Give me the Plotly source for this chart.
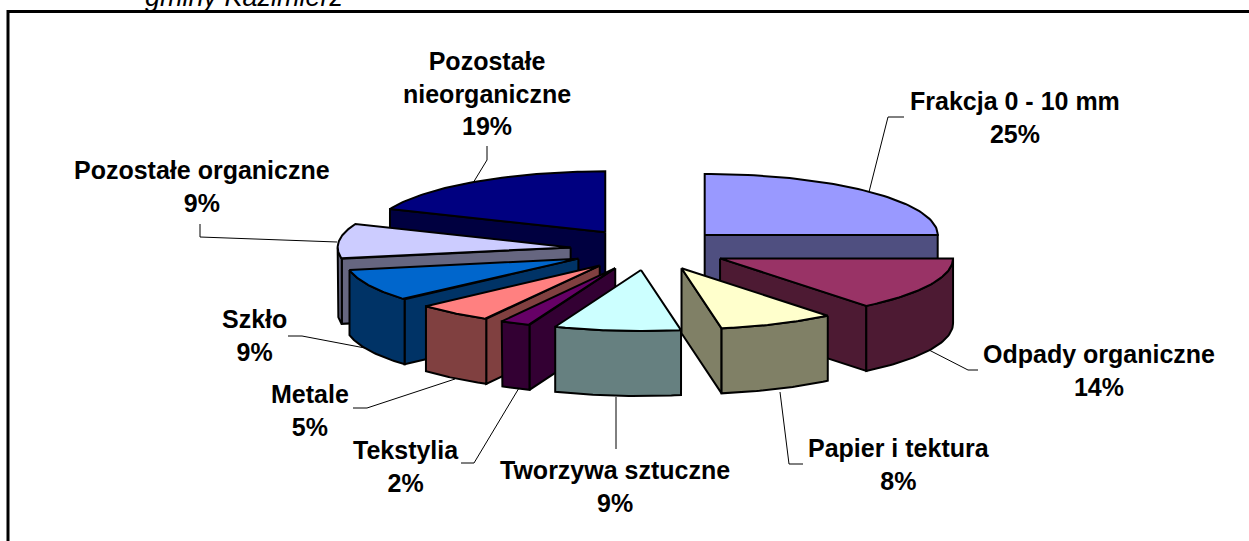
import numpy as np
import plotly.graph_objects as go

# Data
categories = ["Frakcja 0 - 10 mm", "Odpady organiczne", "Papier i tektura", "Tworzywa sztuczne",
              "Tekstylia", "Metale", "Szkło", "Pozostałe organiczne", "Pozostałe<br>nieorganiczne"]
values = [25.0, 14.2, 8.05, 8.75, 2.1, 5.3, 8.6, 9.25, 18.75]
colors = ["#9999FF", "#993366", "#FFFFCC", "#CCFFFF", "#660066", "#FF8080", "#0066CC", "#CCCCFF", "#000080"]
walls = ["#4F4F80", "#4D1A33", "#808066", "#668080", "#330033", "#804040", "#003366", "#666680", "#000040"]

# Pie projection (axis units = pixels of the chart area)
CX, CY, RX, RY, DEPTH, EXPLODE = 649.0, 249.5, 233.0, 61.0, 65.0, 0.338
draw_order = [8, 0, 7, 6, 5, 4, 3, 1, 2]

# Label anchors and leader lines
label_pos = [(1015, 117), (1099, 370), (899, 464), (615, 486), (406, 466), (310, 410), (254, 335), (202, 186), (487, 93)]
leaders = [
    [(869, 192), (888, 117), (904, 117)],
    [(929, 350), (968, 370), (978, 370)],
    [(780, 392), (789, 464), (803, 464)],
    [(616, 397), (616, 449)],
    [(519, 388), (474, 463), (461, 463)],
    [(455, 379), (367, 408), (353, 408)],
    [(365, 348), (302, 336), (288, 336)],
    [(337, 242), (200, 237), (200, 224)],
    [(473, 183), (487, 160), (487, 146)],
]


def pt(ax, ay, deg, h=0.0):
    t = np.radians(deg)
    return ax + RX * np.sin(t), ay - RY * np.cos(t) + h


def poly(fig, xs, ys, color):
    xs, ys = list(xs), list(ys)
    fig.add_trace(go.Scatter(x=xs + xs[:1], y=ys + ys[:1], mode="lines", fill="toself", fillcolor=color,
                             line=dict(color="black", width=2), hoverinfo="skip", showlegend=False))


fig = go.Figure()

for seg in leaders:
    fig.add_trace(go.Scatter(x=[p[0] for p in seg], y=[p[1] for p in seg], mode="lines",
                             line=dict(color="black", width=1), hoverinfo="skip", showlegend=False))

total = sum(values)
edges = np.cumsum([0] + values) / total * 360.0

for i in draw_order:
    a0, a1 = edges[i], edges[i + 1]
    mid = np.radians((a0 + a1) / 2)
    ax = CX + EXPLODE * RX * np.sin(mid)
    ay = CY - EXPLODE * RY * np.cos(mid)

    # cut faces
    if np.sin(np.radians(a0)) < -1e-6:
        ex, ey = pt(ax, ay, a0)
        poly(fig, [ax, ex, ex, ax], [ay, ey, ey + DEPTH, ay + DEPTH], walls[i])
    if np.sin(np.radians(a1)) > 1e-6:
        ex, ey = pt(ax, ay, a1)
        poly(fig, [ax, ex, ex, ax], [ay, ey, ey + DEPTH, ay + DEPTH], walls[i])

    # outer wall (front half only)
    w0, w1 = max(a0, 90.0), min(a1, 270.0)
    if w1 > w0:
        th = np.linspace(w0, w1, 40)
        xs, ys = pt(ax, ay, th)
        poly(fig, np.r_[xs, xs[::-1]], np.r_[ys, ys[::-1] + DEPTH], walls[i])

    # top surface
    th = np.linspace(a0, a1, 60)
    xs, ys = pt(ax, ay, th)
    poly(fig, np.r_[ax, xs], np.r_[ay, ys], colors[i])

for name, v, (lx, ly) in zip(categories, values, label_pos):
    fig.add_annotation(x=lx, y=ly, xref="x", yref="y", text=f"<b>{name}<br>{round(v)}%</b>", showarrow=False,
                       font=dict(family="Liberation Sans", size=25, color="black"), align="center",
                       xanchor="center", yanchor="middle")

fig.add_annotation(x=145, y=12, xref="x", yref="y", text="<i>gminy Kazimierz</i>", showarrow=False,
                   font=dict(family="Liberation Sans", size=27, color="black"), xanchor="left", yanchor="bottom",
                   borderpad=0, borderwidth=0)

fig.add_shape(type="rect", x0=8, y0=11.5, x1=1300, y1=600, xref="x", yref="y",
              line=dict(color="black", width=3), fillcolor="rgba(0,0,0,0)", layer="above")

fig.update_layout(width=1249, height=541, margin=dict(l=0, r=0, t=0, b=0), showlegend=False,
                  paper_bgcolor="white", plot_bgcolor="white",
                  xaxis=dict(range=[0, 1249], visible=False, fixedrange=True),
                  yaxis=dict(range=[541, 0], visible=False, fixedrange=True))

fig.write_html("out.html", config={"displayModeBar": False},
               post_script="document.body.style.margin='0';document.body.style.overflow='hidden';")
